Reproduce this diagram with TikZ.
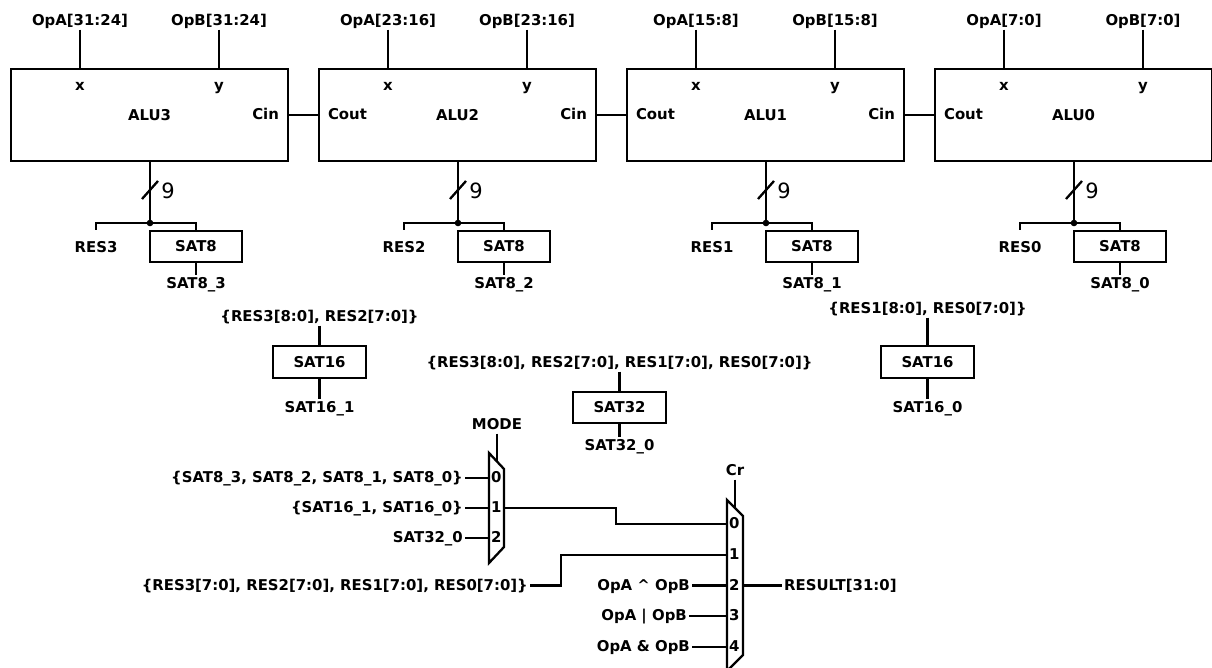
\documentclass[tikz,border=0pt]{standalone}
\usepackage{fontspec}
\setmainfont{DejaVu Sans}
\usetikzlibrary{positioning}

\newcommand{\sigfont}{\fontsize{14.9}{17}\selectfont\bfseries}

\begin{document}
\begin{tikzpicture}[
    x=1pt, y=-1pt,
    wire/.style={line width=2.3pt},
    alu/.style={draw, line width=2.3pt, minimum width=277pt, minimum height=92pt, inner sep=0pt, font=\sigfont},
    sat/.style={draw, line width=2.3pt, minimum width=92pt, minimum height=31pt, inner sep=0pt, font=\sigfont},
    lbl/.style={inner sep=2pt, text height=11pt, text depth=2pt, font=\sigfont},
    buswd/.style={inner sep=0pt, font=\fontsize{21}{25}\selectfont}
  ]
  \useasboundingbox (0,0) rectangle (1212,668);

  % ALU3
  \node[alu] (alu3) at (149.5,115) {ALU3};
  \node[lbl] (opa3) at (80,21) {OpA[31:24]};
  \node[lbl] (opb3) at (219,21) {OpB[31:24]};
  \draw[wire] (opa3) -- (opa3 |- alu3.north);
  \draw[wire] (opb3) -- (opb3 |- alu3.north);
  \node[lbl] (x3) at (80,86) {x};
  \node[lbl] (y3) at (219,86) {y};
  \node[lbl, anchor=east] (cin3) at ([xshift=-8pt]alu3.east) {Cin};
  \coordinate (b3) at (150,190);
  \coordinate (j3) at (150,223);
  \draw[wire] (j3 |- alu3.south) -- (j3);
  \draw[wire] ([shift={(-8,9)}]b3) -- ([shift={(8,-9)}]b3);
  \node[buswd] (w3) at (168,191) {9};
  \fill (j3) circle (3.3pt);
  \node[sat] (sat3) at (196,246.5) {SAT8};
  \node[lbl] (res3) at (96,248) {RES3};
  \draw[wire] (res3 |- sat3.north) |- (j3) -| (sat3.north);
  \node[lbl] (s83) at (196,284) {SAT8\_3};
  \draw[wire] (sat3) -- (s83);

  % ALU2
  \node[alu] (alu2) at (457.5,115) {ALU2};
  \node[lbl] (opa2) at (388,21) {OpA[23:16]};
  \node[lbl] (opb2) at (527,21) {OpB[23:16]};
  \draw[wire] (opa2) -- (opa2 |- alu2.north);
  \draw[wire] (opb2) -- (opb2 |- alu2.north);
  \node[lbl] (x2) at (388,86) {x};
  \node[lbl] (y2) at (527,86) {y};
  \node[lbl, anchor=east] (cin2) at ([xshift=-8pt]alu2.east) {Cin};
  \node[lbl, anchor=west] (cout2) at ([xshift=8pt]alu2.west) {Cout};
  \draw[wire] (alu3.east) -- (alu2.west);
  \coordinate (b2) at (458,190);
  \coordinate (j2) at (458,223);
  \draw[wire] (j2 |- alu2.south) -- (j2);
  \draw[wire] ([shift={(-8,9)}]b2) -- ([shift={(8,-9)}]b2);
  \node[buswd] (w2) at (476,191) {9};
  \fill (j2) circle (3.3pt);
  \node[sat] (sat2) at (504,246.5) {SAT8};
  \node[lbl] (res2) at (404,248) {RES2};
  \draw[wire] (res2 |- sat2.north) |- (j2) -| (sat2.north);
  \node[lbl] (s82) at (504,284) {SAT8\_2};
  \draw[wire] (sat2) -- (s82);

  % ALU1
  \node[alu] (alu1) at (765.5,115) {ALU1};
  \node[lbl] (opa1) at (696,21) {OpA[15:8]};
  \node[lbl] (opb1) at (835,21) {OpB[15:8]};
  \draw[wire] (opa1) -- (opa1 |- alu1.north);
  \draw[wire] (opb1) -- (opb1 |- alu1.north);
  \node[lbl] (x1) at (696,86) {x};
  \node[lbl] (y1) at (835,86) {y};
  \node[lbl, anchor=east] (cin1) at ([xshift=-8pt]alu1.east) {Cin};
  \node[lbl, anchor=west] (cout1) at ([xshift=8pt]alu1.west) {Cout};
  \draw[wire] (alu2.east) -- (alu1.west);
  \coordinate (b1) at (766,190);
  \coordinate (j1) at (766,223);
  \draw[wire] (j1 |- alu1.south) -- (j1);
  \draw[wire] ([shift={(-8,9)}]b1) -- ([shift={(8,-9)}]b1);
  \node[buswd] (w1) at (784,191) {9};
  \fill (j1) circle (3.3pt);
  \node[sat] (sat1) at (812,246.5) {SAT8};
  \node[lbl] (res1) at (712,248) {RES1};
  \draw[wire] (res1 |- sat1.north) |- (j1) -| (sat1.north);
  \node[lbl] (s81) at (812,284) {SAT8\_1};
  \draw[wire] (sat1) -- (s81);

  % ALU0
  \node[alu] (alu0) at (1073.5,115) {ALU0};
  \node[lbl] (opa0) at (1004,21) {OpA[7:0]};
  \node[lbl] (opb0) at (1143,21) {OpB[7:0]};
  \draw[wire] (opa0) -- (opa0 |- alu0.north);
  \draw[wire] (opb0) -- (opb0 |- alu0.north);
  \node[lbl] (x0) at (1004,86) {x};
  \node[lbl] (y0) at (1143,86) {y};
  \node[lbl, anchor=west] (cout0) at ([xshift=8pt]alu0.west) {Cout};
  \draw[wire] (alu1.east) -- (alu0.west);
  \coordinate (b0) at (1074,190);
  \coordinate (j0) at (1074,223);
  \draw[wire] (j0 |- alu0.south) -- (j0);
  \draw[wire] ([shift={(-8,9)}]b0) -- ([shift={(8,-9)}]b0);
  \node[buswd] (w0) at (1092,191) {9};
  \fill (j0) circle (3.3pt);
  \node[sat] (sat0) at (1120,246.5) {SAT8};
  \node[lbl] (res0) at (1020,248) {RES0};
  \draw[wire] (res0 |- sat0.north) |- (j0) -| (sat0.north);
  \node[lbl] (s80) at (1120,284) {SAT8\_0};
  \draw[wire] (sat0) -- (s80);

  % 16 and 32 bit saturation
  \node[lbl] (cat1) at (319.5,317) {\{RES3[8:0], RES2[7:0]\}};
  \node[sat, minimum width=93pt, minimum height=32pt] (sat16a) at (319.5,362) {SAT16};
  \node[lbl] (s161) at (319.5,408) {SAT16\_1};
  \draw[wire] (cat1) -- (sat16a);
  \draw[wire] (sat16a) -- (s161);

  \node[lbl] (cat0) at (927.5,309) {\{RES1[8:0], RES0[7:0]\}};
  \node[sat, minimum width=93pt, minimum height=32pt] (sat16b) at (927.5,362) {SAT16};
  \node[lbl] (s160) at (927.5,408) {SAT16\_0};
  \draw[wire] (cat0) -- (sat16b);
  \draw[wire] (sat16b) -- (s160);

  \node[lbl] (cat32) at (619.5,363) {\{RES3[8:0], RES2[7:0], RES1[7:0], RES0[7:0]\}};
  \node[sat, minimum width=93pt] (sat32) at (619.5,407.5) {SAT32};
  \node[lbl] (s320) at (619.5,446) {SAT32\_0};
  \draw[wire] (cat32) -- (sat32);
  \draw[wire] (sat32) -- (s320);

  % MODE mux
  \draw[wire] (489,453) -- (504,469) -- (504,547) -- (489,563) -- cycle;
  \coordinate (ma0) at (489,478);
  \coordinate (ma1) at (489,508);
  \coordinate (ma2) at (489,538);
  \coordinate (maout) at (504,508);
  \coordinate (masel) at (497,461.5);
  \node[lbl] (mode) at (497,425) {MODE};
  \draw[wire] (mode) -- (masel);
  \node[lbl, anchor=west] (pa0) at (ma0) {0};
  \node[lbl, anchor=west] (pa1) at (ma1) {1};
  \node[lbl, anchor=west] (pa2) at (ma2) {2};
  \node[lbl, anchor=east] (ina0) at (465,478) {\{SAT8\_3, SAT8\_2, SAT8\_1, SAT8\_0\}};
  \node[lbl, anchor=east] (ina1) at (465,508) {\{SAT16\_1, SAT16\_0\}};
  \node[lbl, anchor=east] (ina2) at (465,538) {SAT32\_0};
  \draw[wire] (ina0) -- (ma0);
  \draw[wire] (ina1) -- (ma1);
  \draw[wire] (ina2) -- (ma2);

  % Cr mux
  \draw[wire] (727,500) -- (743,516) -- (743,655) -- (727,671) -- cycle;
  \coordinate (mb0) at (727,524);
  \coordinate (mb1) at (727,555);
  \coordinate (mb2) at (727,585.5);
  \coordinate (mb3) at (727,616);
  \coordinate (mb4) at (727,647);
  \coordinate (mbout) at (743,585.5);
  \coordinate (mbsel) at (735,508);
  \node[lbl] (cr) at (735,471) {Cr};
  \draw[wire] (cr) -- (mbsel);
  \node[lbl, anchor=west] (pb0) at (mb0) {0};
  \node[lbl, anchor=west] (pb1) at (mb1) {1};
  \node[lbl, anchor=west] (pb2) at (mb2) {2};
  \node[lbl, anchor=west] (pb3) at (mb3) {3};
  \node[lbl, anchor=west] (pb4) at (mb4) {4};
  \draw[wire] (maout) -- ++(112,0) |- (mb0);
  \node[lbl, anchor=east] (resall) at (530,585.5) {\{RES3[7:0], RES2[7:0], RES1[7:0], RES0[7:0]\}};
  \draw[wire] (resall.east) -- ++(31,0) |- (mb1);
  \node[lbl, anchor=east] (nxor) at (692,585.5) {OpA \textasciicircum{} OpB};
  \node[lbl, anchor=east] (nor) at (689,616) {OpA | OpB};
  \node[lbl, anchor=east] (nand) at (692,647) {OpA \& OpB};
  \draw[wire] (nxor) -- (mb2);
  \draw[wire] (nor) -- (mb3);
  \draw[wire] (nand) -- (mb4);
  \node[lbl, anchor=west] (result) at (782,585.5) {RESULT[31:0]};
  \draw[wire] (mbout) -- (result);
\end{tikzpicture}
\end{document}
